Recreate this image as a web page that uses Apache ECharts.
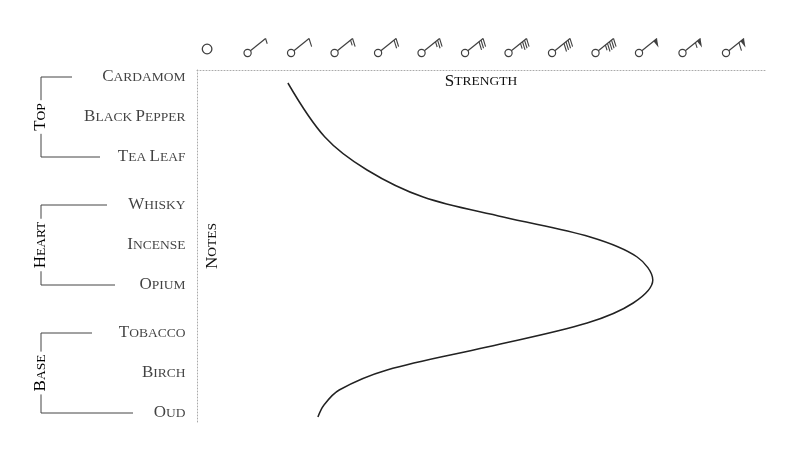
<!DOCTYPE html>
<html><head><meta charset="utf-8">
<script src="https://cdn.jsdelivr.net/npm/echarts@6/dist/echarts.min.js"></script>
<style>html,body{margin:0;padding:0;background:#fff}#c{width:800px;height:458px}</style>
</head><body><div id="c"></div>
<script>
// ---- data ----
const notes = ['Cardamom','Black Pepper','Tea Leaf','Whisky','Incense','Opium','Tobacco','Birch','Oud'];
const notePos = [0, 1, 2, 3.2, 4.2, 5.2, 6.4, 7.4, 8.4];
const groups = ['Top','Heart','Base'];
const groupRange = [[0,2],[3,5],[6,8]]; // note index ranges
const strengthTicks = [0,1,2,3,4,5,6,7,8,9,10,11,12];
const curveNotePos = [0.15, 1.5, 2.325, 3.0, 3.5, 4.0, 4.5, 5.075, 5.65, 6.15, 6.75, 7.325, 7.825, 8.2, 8.5];
const curveStrength = [1.72, 2.57, 3.54, 4.83, 6.67, 8.67, 9.75, 10.11, 9.66, 8.6, 6.3, 4.0, 2.9, 2.55, 2.41];

const XMIN = -0.37, XMAX = 12.69, YMIN = -0.175, YMAX = 8.625;
const FONT = 'Liberation Serif';

function sc(s){
  return s.split(' ').map(w => '{a|'+w[0].toUpperCase()+'}{b|'+w.slice(1).toUpperCase()+'}').join('{b| }');
}
const scRich = {a:{fontFamily:FONT,fontSize:17,color:'#111'}, b:{fontFamily:FONT,fontSize:13.5,color:'#111'}};

function barb(n){
  let p = '';
  if (n === 0) {
    p = '<circle cx="8" cy="15" r="4.8" fill="none" stroke="#111" stroke-width="1.3"/>';
  } else {
    p += '<circle cx="5" cy="19" r="3.6" fill="none" stroke="#111" stroke-width="1.2"/>';
    const x0=7.8,y0=16.8,x1=23,y1=4.5;
    p += '<line x1="'+x0+'" y1="'+y0+'" x2="'+x1+'" y2="'+y1+'" stroke="#111" stroke-width="1.2"/>';
    let pen = n>=10?1:0, rest = n - pen*10, full = Math.floor(rest/2), half = rest%2;
    let t = 0;
    const dx=(x1-x0), dy=(y1-y0), L=Math.hypot(dx,dy), ux=dx/L, uy=dy/L;
    if (pen){
      const bx=x1-ux*4.5, by=y1-uy*4.5;
      p += '<polygon points="'+x1+','+y1+' '+(x1+1.5)+','+(y1+9)+' '+bx+','+by+'" fill="#111"/>';
      t = 6.5;
    }
    for (let i=0;i<full+half;i++){
      const len = i<full?8.5:5.5;
      const sx=x1-ux*t, sy=y1-uy*t;
      p += '<line x1="'+sx+'" y1="'+sy+'" x2="'+(sx+len*0.3)+'" y2="'+(sy+len*0.95)+'" stroke="#111" stroke-width="1.1"/>';
      t += 2.6;
    }
  }
  const svg = '<svg xmlns="http://www.w3.org/2000/svg" width="28" height="24" viewBox="0 0 28 24">'+p+'</svg>';
  return 'image://data:image/svg+xml;charset=utf-8,'+encodeURIComponent(svg);
}

const chart = echarts.init(document.getElementById('c'));
chart.setOption({
  animation:false,
  grid:{left:197,right:35,top:70,bottom:36},
  xAxis:{type:'value',position:'top',min:XMIN,max:XMAX,
    axisLine:{show:true,onZero:false,lineStyle:{color:'#aaa',type:[1,2],width:1}},
    axisTick:{show:false},axisLabel:{show:false},splitLine:{show:false},
    name:sc('Strength'),nameLocation:'middle',nameGap:-20,
    nameTextStyle:{rich:scRich}},
  yAxis:{type:'value',inverse:true,min:YMIN,max:YMAX,
    axisLine:{show:true,onZero:false,lineStyle:{color:'#aaa',type:[1,2],width:1}},
    axisTick:{show:false},axisLabel:{show:false},splitLine:{show:false},
    name:sc('Notes'),nameLocation:'middle',nameGap:-24,nameRotate:90,
    nameTextStyle:{rich:scRich}},
  series:[
    {type:'line',smooth:0.35,symbol:'none',lineStyle:{color:'#222',width:1.5},
     data:curveNotePos.map((y,i)=>[curveStrength[i],y])},
    {type:'scatter',clip:false,silent:true,symbolSize:[28,24],
     data:strengthTicks.map(v=>({value:[v,YMIN-0.6],symbol:barb(v)}))},
    {type:'scatter',clip:false,silent:true,symbolSize:1,itemStyle:{color:'rgba(0,0,0,0)'},
     label:{show:true,position:'left',distance:11,rich:scRich,
       formatter:p=>sc(notes[p.dataIndex])},
     data:notePos.map(y=>[XMIN,y])}
  ]
});

// group brackets
const gfx = [];
const bx = 41;
const ends = [[72,100],[107,115],[92,133]];
groupRange.forEach((r,gi)=>{
  const ya = chart.convertToPixel({yAxisIndex:0}, notePos[r[0]]);
  const yb = chart.convertToPixel({yAxisIndex:0}, notePos[r[1]]);
  gfx.push({type:'polyline',shape:{points:[[ends[gi][0],ya],[bx,ya],[bx,yb],[ends[gi][1],yb]]},
    style:{stroke:'#444',lineWidth:1,fill:null}});
  gfx.push({type:'text',x:bx,y:(ya+yb)/2,rotation:Math.PI/2,
    style:{text:sc(groups[gi]),rich:scRich,align:'center',verticalAlign:'middle',
      backgroundColor:'#fff',padding:[0,3]}});
});
chart.setOption({graphic:gfx});
</script></body></html>
